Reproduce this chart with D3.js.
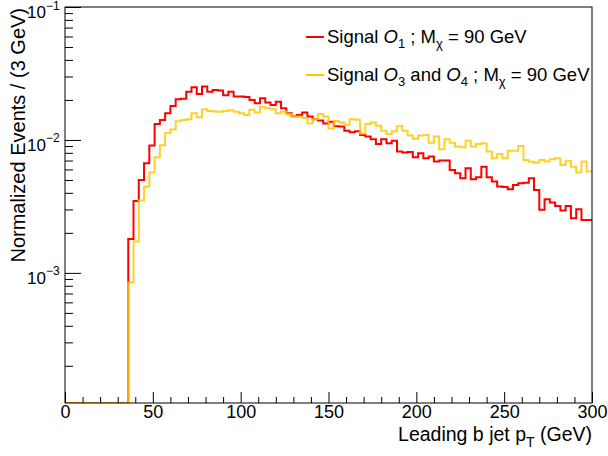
<!DOCTYPE html>
<html>
<head>
<meta charset="utf-8">
<script src="https://cdn.jsdelivr.net/npm/d3@7"></script>
<style>
  html, body { margin: 0; padding: 0; background: #fff; }
  svg { display: block; }
  text { font-family: "Liberation Sans", Arial, Helvetica, sans-serif; fill: #000; }
</style>
</head>
<body>
<svg id="chart" width="608" height="456"></svg>
<script>
// ---- data ----
const binWidth = 3; // GeV
const xTickValues = [0, 50, 100, 150, 200, 250, 300];
const yTickExponents = [-1, -2, -3];
const legendLabels = ["Signal O1 ; Mχ = 90 GeV", "Signal O3 and O4 ; Mχ = 90 GeV"];

// Signal O1 ; Mchi = 90 GeV (100 bins of 3 GeV, 0-300 GeV)
const signalO1 = [
  0,0,0,0,0,0,0,0,0,0,0,0,
  1.80e-3, 3.47e-3, 5.00e-3, 6.68e-3, 9.10e-3, 1.32e-2, 1.41e-2, 1.59e-2,
  1.80e-2, 2.02e-2, 2.04e-2, 2.30e-2, 2.49e-2, 2.22e-2, 2.52e-2, 2.30e-2,
  2.38e-2, 2.35e-2, 2.17e-2, 2.30e-2, 2.12e-2, 2.12e-2, 2.10e-2, 2.00e-2,
  1.89e-2, 2.06e-2, 1.91e-2, 1.83e-2, 1.94e-2, 1.73e-2, 1.59e-2, 1.51e-2,
  1.54e-2, 1.61e-2, 1.50e-2, 1.43e-2, 1.40e-2, 1.33e-2, 1.37e-2, 1.27e-2,
  1.26e-2, 1.17e-2, 1.14e-2, 1.16e-2, 1.09e-2, 1.06e-2, 1.01e-2, 9.33e-3,
  1.01e-2, 9.44e-3, 9.88e-3, 8.17e-3, 8.03e-3, 8.10e-3, 7.41e-3, 7.94e-3,
  7.28e-3, 7.50e-3, 6.88e-3, 7.00e-3, 7.00e-3, 5.94e-3, 5.62e-3, 5.15e-3,
  6.12e-3, 5.06e-3, 5.24e-3, 6.29e-3, 5.24e-3, 4.86e-3, 4.46e-3, 4.42e-3,
  4.26e-3, 4.59e-3, 4.72e-3, 4.77e-3, 5.15e-3, 4.21e-3, 2.98e-3, 3.58e-3,
  3.38e-3, 3.19e-3, 2.94e-3, 3.19e-3, 2.58e-3, 3.01e-3, 2.50e-3, 2.50e-3
];

// Signal O3 and O4 ; Mchi = 90 GeV
const signalO34 = [
  0,0,0,0,0,0,0,0,0,0,0,0,
  8.45e-4, 1.72e-3, 3.50e-3, 4.46e-3, 5.68e-3, 7.41e-3, 9.12e-3, 1.13e-2,
  1.20e-2, 1.38e-2, 1.41e-2, 1.43e-2, 1.59e-2, 1.48e-2, 1.70e-2, 1.65e-2,
  1.64e-2, 1.63e-2, 1.65e-2, 1.67e-2, 1.63e-2, 1.59e-2, 1.54e-2, 1.69e-2,
  1.61e-2, 1.78e-2, 1.73e-2, 1.70e-2, 1.59e-2, 1.63e-2, 1.57e-2, 1.51e-2,
  1.50e-2, 1.46e-2, 1.33e-2, 1.43e-2, 1.57e-2, 1.50e-2, 1.22e-2, 1.39e-2,
  1.35e-2, 1.30e-2, 1.43e-2, 1.42e-2, 1.12e-2, 1.32e-2, 1.35e-2, 1.28e-2,
  1.17e-2, 1.11e-2, 1.16e-2, 1.27e-2, 1.17e-2, 1.08e-2, 1.02e-2, 1.08e-2,
  1.09e-2, 9.54e-3, 1.06e-2, 8.51e-3, 1.01e-2, 9.54e-3, 8.91e-3, 8.82e-3,
  9.88e-3, 8.91e-3, 9.33e-3, 9.44e-3, 8.17e-3, 7.28e-3, 7.85e-3, 7.28e-3,
  8.31e-3, 8.31e-3, 9.01e-3, 7.08e-3, 6.84e-3, 6.75e-3, 7.08e-3, 6.88e-3,
  7.16e-3, 7.28e-3, 6.49e-3, 6.98e-3, 6.29e-3, 5.68e-3, 6.88e-3, 5.78e-3
];

// ---- layout ----
const svg = d3.select("#chart");
const L = 65, R = 592, T = 7, B = 403;
const yMin = 1.05e-4, yMax = 0.1;

const x = d3.scaleLinear().domain([0, 300]).range([L, R]);
const y = d3.scaleLog().domain([yMin, yMax]).range([B, T]);

svg.append("defs").append("clipPath").attr("id", "clip")
  .append("rect").attr("x", L).attr("y", T - 1).attr("width", R - L).attr("height", B - T + 1);

// histogram lines
function histPoints(vals) {
  const pts = vals.map((v, i) => [i * binWidth, Math.max(v, yMin)]);
  pts.push([vals.length * binWidth, Math.max(vals[vals.length - 1], yMin)]);
  return pts;
}
const line = d3.line().x(d => x(d[0])).y(d => y(d[1])).curve(d3.curveStepAfter);

const g = svg.append("g").attr("clip-path", "url(#clip)");
g.append("path").attr("d", line(histPoints(signalO1)))
  .attr("fill", "none").attr("stroke", "#ff0000").attr("stroke-width", 2);
g.append("path").attr("d", line(histPoints(signalO34)))
  .attr("fill", "none").attr("stroke", "#ffc800").attr("stroke-opacity", 0.85).attr("stroke-width", 2);

// frame
svg.append("rect").attr("x", L).attr("y", T).attr("width", R - L).attr("height", B - T)
  .attr("fill", "none").attr("stroke", "#000").attr("stroke-width", 1);

// x axis
const xMinor = d3.range(0, 301, 10).filter(v => v % 50 !== 0);
const xAxisMinor = svg.append("g").attr("transform", `translate(0,${B})`)
  .call(d3.axisBottom(x).tickValues(xMinor).tickSize(-6).tickFormat(""));
const xAxis = svg.append("g").attr("transform", `translate(0,${B})`)
  .call(d3.axisBottom(x).tickValues(xTickValues).tickSize(-11).tickPadding(2).tickFormat(d3.format("d")));
[xAxisMinor, xAxis].forEach(a => { a.select(".domain").remove(); a.selectAll("line").attr("stroke", "#000"); });
xAxis.selectAll("text").attr("font-size", 18).attr("fill", "#000")
  .attr("font-family", '"Liberation Sans", Arial, sans-serif');

// y axis
const yMinorVals = [];
[-4, -3, -2].forEach(k => { for (let m = 2; m <= 9; m++) { const v = m * Math.pow(10, k); if (v >= yMin && v <= yMax) yMinorVals.push(v); } });
const yMajorVals = yTickExponents.map(e => Math.pow(10, e));
const yAxisMinor = svg.append("g").attr("transform", `translate(${L},0)`)
  .call(d3.axisLeft(y).tickValues(yMinorVals).tickSize(-8).tickFormat(""));
const yAxis = svg.append("g").attr("transform", `translate(${L},0)`)
  .call(d3.axisLeft(y).tickValues(yMajorVals).tickSize(-16).tickFormat(""));
[yAxisMinor, yAxis].forEach(a => { a.select(".domain").remove(); a.selectAll("line").attr("stroke", "#000"); });

yAxis.selectAll(".tick").each(function(d) {
  const t = d3.select(this).select("text");
  const e = Math.round(Math.log10(d));
  t.attr("x", -19).attr("dy", null).attr("y", 10.5).attr("text-anchor", "end")
   .attr("font-size", 17).attr("fill", "#000").attr("font-family", '"Liberation Sans", Arial, sans-serif')
   .text("10");
  d3.select(this).append("text").attr("x", -19).attr("y", 2).attr("text-anchor", "start")
   .attr("font-size", 12).attr("fill", "#000").attr("font-family", '"Liberation Sans", Arial, sans-serif')
   .text("\u2212" + Math.abs(e));
});

// axis titles
const xt = svg.append("text").attr("x", R).attr("y", 441).attr("text-anchor", "end").attr("font-size", 19.5);
xt.append("tspan").text("Leading b jet p");
xt.append("tspan").attr("font-size", 14).attr("dy", 6).text("T");
xt.append("tspan").attr("dy", -6).text(" (GeV)");

svg.append("text").attr("transform", `translate(25,8) rotate(-90)`).attr("text-anchor", "end")
  .attr("font-size", 20).text("Normalized Events / (3 GeV)");

// legend
const legendColors = ["#ff0000", "#ffc800"];
const legendRows = [
  [["Signal ", null], ["O", "it"], ["1", "sub"], [" ; M", null], ["\u03c7", "sub"], [" = 90 GeV", null]],
  [["Signal ", null], ["O", "it"], ["3", "sub"], [" and ", null], ["O", "it"], ["4", "sub"], [" ; M", null], ["\u03c7", "sub"], [" = 90 GeV", null]]
];
const legendY = [37, 75];
legendRows.forEach((parts, i) => {
  const ly = legendY[i];
  svg.append("line").attr("x1", 306).attr("x2", 324).attr("y1", ly).attr("y2", ly)
    .attr("stroke", legendColors[i]).attr("stroke-width", 2);
  const t = svg.append("text").attr("x", 327).attr("y", ly + 6).attr("font-size", 18.5)
    .attr("aria-label", legendLabels[i]);
  let sub = false;
  parts.forEach(([s, kind]) => {
    const ts = t.append("tspan").text(s);
    if (kind === "it") ts.attr("font-style", "italic");
    if (kind === "sub") { ts.attr("font-size", 13).attr("dy", 5); sub = true; }
    else if (sub) { ts.attr("dy", -5); sub = false; }
  });
});
</script>
</body>
</html>
